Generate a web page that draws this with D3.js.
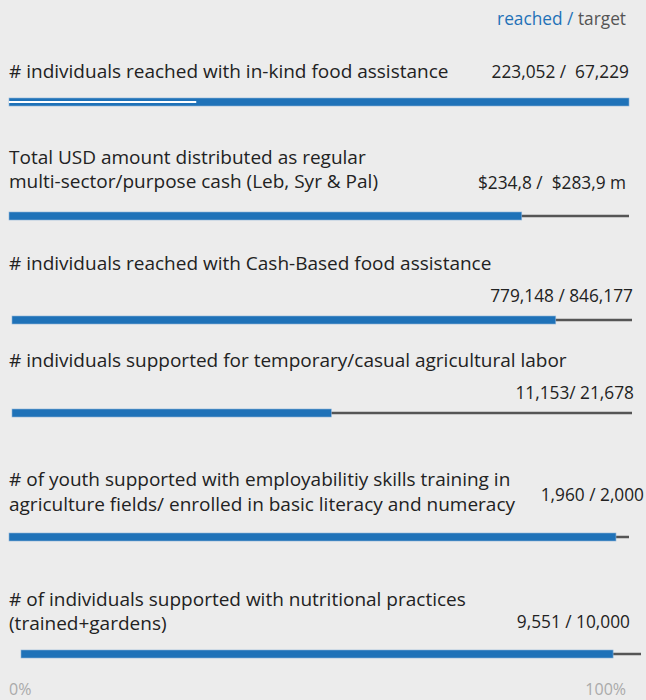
<!DOCTYPE html>
<html>
<head>
<meta charset="utf-8">
<script src="https://cdn.jsdelivr.net/npm/d3@7"></script>
<style>
  body { margin: 0; background: #ececec; }
  svg { display: block; font-family: "Open Sans", sans-serif; }
</style>
</head>
<body>
<div id="chart"></div>
<script>

// DATA
let indicators = [
    ["# individuals reached with in-kind food assistance"],
    ["Total USD amount distributed as regular", "multi-sector/purpose cash (Leb, Syr & Pal)"],
    ["# individuals reached with Cash-Based food assistance"],
    ["# individuals supported for temporary/casual agricultural labor"],
    ["# of youth supported with employabilitiy skills training in", "agriculture fields/ enrolled in basic literacy and numeracy"],
    ["# of individuals supported with nutritional practices", "(trained+gardens)"]
];
let reachedText = ["223,052 / ", "$234,8 / ", "779,148 / ", "11,153/ ", "1,960 / ", "9,551 / "];
let targetText = [" 67,229", " $283,9 m", "846,177", "21,678", "2,000", "10,000"];
// bar length (% of full bar)
let reachedPct = [100, 82.7, 87.7, 51.5, 97.9, 95.5];
// target mark (% of full bar); first row reached is over target
let targetPct = [30.2, 100, 100, 100, 100, 100];
let axisTicks = [0, 100];

// LAYOUT
let width = 646, height = 700;
let rows = [
    {barY: 102, x0: 9,  labelY: [78],       valueY: 78,  valueX: 629},
    {barY: 216, x0: 9,  labelY: [164, 188], valueY: 189, valueX: 626},
    {barY: 320, x0: 12, labelY: [270],      valueY: 302, valueX: 633},
    {barY: 413, x0: 12, labelY: [367],      valueY: 399, valueX: 634},
    {barY: 537, x0: 9,  labelY: [486, 511], valueY: 501, valueX: 644},
    {barY: 654, x0: 21, labelY: [606, 630], valueY: 628, valueX: 630}
];
let barLen = 620;

let svg = d3.select("#chart").append("svg")
    .attr("width", width)
    .attr("height", height);

svg.append("rect")
    .attr("width", width)
    .attr("height", height)
    .attr("fill", "#ececec");

// legend
let legend = svg.append("text")
    .attr("x", 626)
    .attr("y", 25)
    .attr("text-anchor", "end")
    .attr("font-size", 17.3);
legend.append("tspan").attr("fill", "#1f72b8").text("reached / ");
legend.append("tspan").attr("fill", "#555").text("target");

indicators.forEach((lines, i) => {
    let r = rows[i];
    let x = d3.scaleLinear()
        .domain([0, 100])
        .range([r.x0, r.x0 + barLen]);

    let g = svg.append("g");

    // label
    lines.forEach((t, j) => {
        g.append("text")
            .attr("x", 9)
            .attr("y", r.labelY[j])
            .attr("font-size", 19)
            .attr("fill", "#222")
            .text(t);
    });

    // values
    g.append("text")
        .attr("x", r.valueX)
        .attr("y", r.valueY)
        .attr("text-anchor", "end")
        .attr("font-size", 17.3)
        .attr("fill", "#222")
        .attr("xml:space", "preserve")
        .text(reachedText[i] + targetText[i]);

    // target line
    g.append("rect")
        .attr("x", x(0))
        .attr("y", r.barY - 1.25)
        .attr("width", x(100) - x(0))
        .attr("height", 2.5)
        .attr("fill", "#555");

    // reached bar
    g.append("rect")
        .attr("x", x(0))
        .attr("y", r.barY - 4)
        .attr("width", x(reachedPct[i]) - x(0))
        .attr("height", 8)
        .attr("fill", "#1f72b8")
        .attr("stroke", "#8db3d8")
        .attr("stroke-width", 0.6);

    // target mark inside bar when reached > target
    if (targetPct[i] < 100) {
        g.append("rect")
            .attr("x", x(0))
            .attr("y", r.barY - 1)
            .attr("width", x(targetPct[i]) - x(0))
            .attr("height", 2)
            .attr("fill", "#fff");
    }
});

// axis labels
let xAxisScale = d3.scaleLinear().domain([0, 100]).range([9, 626]);
svg.selectAll(".tick-label")
    .data(axisTicks)
    .enter()
    .append("text")
    .attr("class", "tick-label")
    .attr("x", d => xAxisScale(d))
    .attr("y", 695)
    .attr("text-anchor", d => d === 0 ? "start" : "end")
    .attr("font-size", 16)
    .attr("fill", "#aaa")
    .text(d => d + "%");

</script>
</body>
</html>
